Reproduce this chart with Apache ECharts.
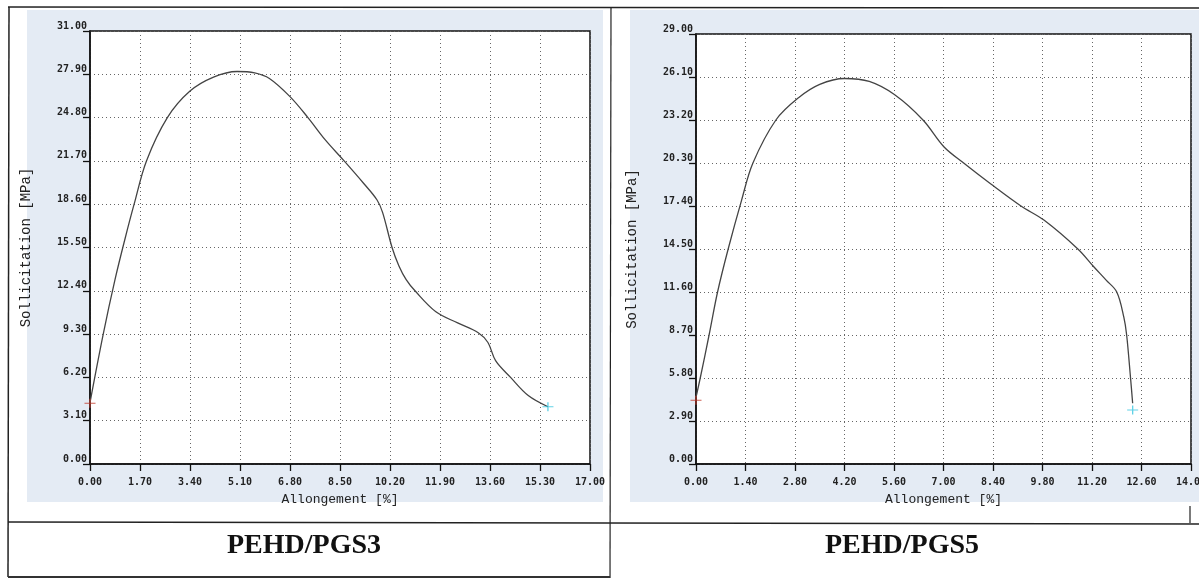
<!DOCTYPE html>
<html>
<head>
<meta charset="utf-8">
<script src="https://cdn.jsdelivr.net/npm/echarts@6/dist/echarts.min.js"></script>
<style>
html,body{margin:0;padding:0;background:#fff;}
#main{width:1199px;height:578px;}
</style>
</head>
<body>
<div id="main"></div>
<script>
// PEHD/PGS3 - courbe gauche
var strainA = [0, 0.45, 0.85, 1.2, 1.5, 1.92, 2.63, 3.4, 4.2, 5.0, 5.6, 6.1, 6.8, 7.41, 8.0, 8.64, 9.3, 9.76, 9.95, 10.27, 10.5, 10.75, 11.05, 11.76, 12.5, 13.2, 13.53, 13.79, 14.3, 14.9, 15.57];
var stressA = [4.4, 9.3, 13.2, 16.2, 18.6, 21.7, 24.8, 26.7, 27.7, 28.1, 28.0, 27.6, 26.3, 24.8, 23.2, 21.7, 20.1, 18.9, 18.0, 15.5, 14.2, 13.2, 12.4, 10.9, 10.1, 9.4, 8.7, 7.4, 6.2, 4.9, 4.1];
var startA = [0, 4.35];
var endA = [15.57, 4.1];
var xTicksA = [0, 1.7, 3.4, 5.1, 6.8, 8.5, 10.2, 11.9, 13.6, 15.3, 17.0];
var yTicksA = [0, 3.1, 6.2, 9.3, 12.4, 15.5, 18.6, 21.7, 24.8, 27.9, 31.0];

// PEHD/PGS5 - courbe droite
var strainB = [0, 0.12, 0.37, 0.61, 0.91, 1.29, 1.61, 2.26, 2.9, 3.5, 4.2, 4.9, 5.62, 6.42, 7.01, 7.57, 8.33, 9.19, 9.84, 10.8, 11.25, 11.6, 11.9, 12.1, 12.18, 12.29, 12.35];
var stressB = [4.5, 5.8, 8.7, 11.6, 14.5, 17.8, 20.3, 23.2, 24.7, 25.6, 26.0, 25.8, 24.9, 23.2, 21.4, 20.3, 18.9, 17.4, 16.45, 14.5, 13.3, 12.4, 11.6, 9.9, 8.7, 5.8, 4.1];
var startB = [0, 4.3];
var endB = [12.35, 3.64];
var xTicksB = [0, 1.4, 2.8, 4.2, 5.6, 7.0, 8.4, 9.8, 11.2, 12.6, 14.0];
var yTicksB = [0, 2.9, 5.8, 8.7, 11.6, 14.5, 17.4, 20.3, 23.2, 26.1, 29.0];

var titles = ['PEHD/PGS3', 'PEHD/PGS5'];

function zip(a, b) {
    var out = [];
    for (var i = 0; i < a.length; i++) out.push([a[i], b[i]]);
    return out;
}

var monoFont = '"DejaVu Sans Mono", "Liberation Mono", monospace';
var plus = 'path://M0,4.4H10V5.6H0Z M4.4,0H5.6V10H4.4Z';

function xAxe(idx, ticks) {
    return {
        type: 'value', gridIndex: idx,
        min: ticks[0], max: ticks[ticks.length - 1], interval: ticks[1] - ticks[0],
        name: 'Allongement [%]', nameLocation: 'middle', nameGap: 29,
        nameTextStyle: {fontFamily: '"Liberation Mono", monospace', fontSize: 13, color: '#222'},
        axisLine: {show: true, lineStyle: {color: '#111', width: 1.5}},
        axisTick: {show: true, inside: false, length: 7, lineStyle: {color: '#111', width: 1.3}},
        axisLabel: {margin: 13, fontFamily: monoFont, fontSize: 10, fontWeight: 'bold', color: '#222',
            formatter: function (v) { return v.toFixed(2); }},
        splitLine: {show: true, lineStyle: {color: '#666', width: 1, type: [1, 3]}}
    };
}
function yAxe(idx, ticks) {
    return {
        type: 'value', gridIndex: idx,
        min: ticks[0], max: ticks[ticks.length - 1], interval: ticks[1] - ticks[0],
        name: 'Sollicitation [MPa]', nameLocation: 'middle', nameGap: 57,
        nameTextStyle: {fontFamily: '"Liberation Mono", monospace', fontSize: 14, color: '#222'},
        axisLine: {show: true, lineStyle: {color: '#111', width: 1.5}},
        axisTick: {show: true, inside: false, length: 7, lineStyle: {color: '#111', width: 1.3}},
        axisLabel: {margin: 3, fontFamily: monoFont, fontSize: 10, fontWeight: 'bold', color: '#222',
            verticalAlign: 'bottom', formatter: function (v) { return v.toFixed(2); }},
        splitLine: {show: true, lineStyle: {color: '#666', width: 1, type: [1, 3]}}
    };
}
function courbe(idx, xs, ys) {
    return {
        type: 'line', xAxisIndex: idx, yAxisIndex: idx,
        data: zip(xs, ys), smooth: 0.35, showSymbol: false, silent: true,
        lineStyle: {color: '#444', width: 1.3}
    };
}
function repere(idx, pt, col) {
    return {
        type: 'scatter', xAxisIndex: idx, yAxisIndex: idx, silent: true,
        data: [pt], symbol: plus, symbolSize: [11, 9],
        itemStyle: {color: col}, z: 5
    };
}

var chart = echarts.init(document.getElementById('main'));
var option = {
    animation: false,
    backgroundColor: '#fff',
    grid: [
        {left: 90, top: 31, width: 500, height: 433, outerBoundsMode: 'none', show: true, backgroundColor: '#fff', borderColor: '#111', borderWidth: 1.5},
        {left: 696, top: 34, width: 495, height: 430, outerBoundsMode: 'none', show: true, backgroundColor: '#fff', borderColor: '#111', borderWidth: 1.5}
    ],
    xAxis: [xAxe(0, xTicksA), xAxe(1, xTicksB)],
    yAxis: [yAxe(0, yTicksA), yAxe(1, yTicksB)],
    series: [
        courbe(0, strainA, stressA),
        repere(0, startA, '#c0392b'),
        repere(0, endA, '#39c6e0'),
        courbe(1, strainB, stressB),
        repere(1, startB, '#c0392b'),
        repere(1, endB, '#39c6e0')
    ],
    graphic: [
        // fonds bleutés des deux fenêtres
        {type: 'rect', z: -10, shape: {x: 27, y: 10, width: 576, height: 492}, style: {fill: '#e4ebf4'}},
        {type: 'rect', z: -10, shape: {x: 630, y: 10, width: 569, height: 492}, style: {fill: '#e4ebf4'}},
        // cadre du tableau
        {type: 'line', z: 10, shape: {x1: 8, y1: 7, x2: 1199, y2: 8}, style: {stroke: '#222', lineWidth: 1.5}},
        {type: 'line', z: 10, shape: {x1: 9, y1: 7, x2: 8, y2: 577}, style: {stroke: '#222', lineWidth: 1.5}},
        {type: 'line', z: 10, shape: {x1: 611, y1: 7, x2: 610, y2: 578}, style: {stroke: '#222', lineWidth: 1.2}},
        {type: 'line', z: 10, shape: {x1: 8, y1: 522, x2: 1199, y2: 524}, style: {stroke: '#222', lineWidth: 1.5}},
        {type: 'line', z: 10, shape: {x1: 8, y1: 577, x2: 610, y2: 577}, style: {stroke: '#333', lineWidth: 2}},
        {type: 'line', z: 10, shape: {x1: 1190, y1: 506, x2: 1190, y2: 523}, style: {stroke: '#222', lineWidth: 1.2}},
        // titres
        {type: 'text', z: 10, x: 304, y: 546, style: {text: titles[0], fill: '#111', font: 'bold 28px "Liberation Serif", "Times New Roman", serif', textAlign: 'center', textVerticalAlign: 'middle'}},
        {type: 'text', z: 10, x: 902, y: 546, style: {text: titles[1], fill: '#111', font: 'bold 28px "Liberation Serif", "Times New Roman", serif', textAlign: 'center', textVerticalAlign: 'middle'}}
    ]
};
chart.setOption(option);
</script>
</body>
</html>
